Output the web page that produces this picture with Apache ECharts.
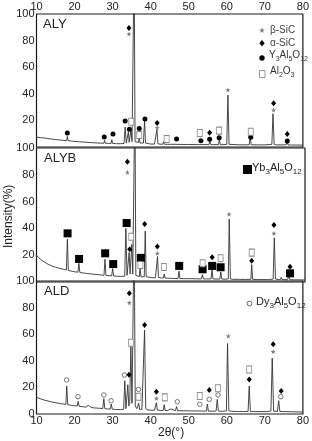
<!DOCTYPE html>
<html><head><meta charset="utf-8">
<script src="https://cdn.jsdelivr.net/npm/echarts@6/dist/echarts.min.js"></script>
<style>html,body{margin:0;padding:0;background:#fff}#c{width:312px;height:441px}</style>
</head><body><div id="c"></div>
<script>
// ---------- DATA ----------
const xTickValues = [10, 20, 30, 40, 50, 60, 70, 80];
const yTickValues = [0, 20, 40, 60, 80, 100];
const panelNames = ['ALY', 'ALYB', 'ALD'];

// XRD profiles [2theta, intensity %]
const alyPattern = [[10,7.5],[11,7],[12,6.8],[13,6.3],[14,6],[15,5.6],[16,5.3],[17,5],[17.9,4.8],[18.1,8],[18.3,4.7],[19,4.5],[20,4.2],[21,4],[22,3.8],[23,3.6],[24,3.4],[25,3.2],[26,3],[27,2.9],[27.7,2.8],[27.9,5],[28.1,2.8],[29,2.7],[29.6,2.7],[29.8,5.5],[30,2.7],[31,2.5],[32,2.5],[33,2.6],[33.3,15],[33.6,3],[33.9,3.2],[34.15,11.5],[34.35,3.5],[34.55,4],[34.85,13],[35.1,4],[35.4,5],[35.65,140],[35.9,4],[36.3,3],[36.8,3.5],[37,7],[37.2,3],[37.6,2.6],[38.1,3],[38.4,20],[38.65,3],[39,2.3],[40,2.2],[41,2.2],[41.4,2.5],[41.65,13],[41.9,2.5],[42.5,2.1],[43.2,2.1],[43.4,4],[43.6,2.1],[44.5,2],[45.3,2],[45.5,3],[45.7,2],[46.5,2],[46.75,3.5],[47,2],[48,1.9],[49.7,1.9],[49.9,2.5],[50.1,1.9],[52,1.8],[52.9,1.8],[53.1,3.2],[53.3,1.8],[54,1.8],[55.3,1.8],[55.55,4.5],[55.8,1.8],[56.5,1.8],[57.8,1.8],[58.05,5.5],[58.3,1.8],[59,1.7],[60,2],[60.3,39],[60.6,2],[61,1.7],[63,1.7],[64.5,1.6],[65.9,1.7],[66.15,7.5],[66.4,1.7],[68,1.6],[70,1.6],[71.85,2],[72.15,25],[72.45,2],[73,1.6],[73.7,1.6],[73.9,3],[74.1,1.6],[75.6,1.6],[75.85,4.5],[76.1,1.6],[77,1.5],[78,1.5],[80,1.4]];
const alybPattern = [[10,20],[10.5,18.5],[11,17],[11.5,16],[12,15],[13,13.3],[14,12],[15,11],[16,10.2],[17,9.5],[17.8,9],[18.05,32],[18.3,8.6],[19,8.2],[20,7.6],[20.8,7.3],[21.05,14],[21.3,7.1],[22,6.8],[23,6.4],[24,6.1],[25,5.8],[26,5.5],[27,5.2],[27.6,5],[27.85,17],[28.1,4.9],[29,4.7],[29.6,4.6],[29.85,10],[30.1,4.5],[31,4.3],[32,4.2],[33,4.3],[33.3,40],[33.6,5],[33.9,5.5],[34.15,22],[34.4,6],[34.6,7],[34.85,28],[35.1,6],[35.4,7],[35.65,140],[35.9,5],[36.4,4],[36.8,4],[37,10],[37.25,3.8],[37.7,3.6],[38.1,4],[38.35,38],[38.6,4],[39,3.4],[40,3.2],[41,3.2],[41.3,3.5],[41.55,19],[41.8,3.4],[42.5,3],[43.1,3],[43.3,6],[43.5,3],[44.5,2.8],[45.3,2.7],[45.5,4],[45.7,2.7],[46.9,2.6],[47.15,8],[47.4,2.6],[48.5,2.5],[49.6,2.5],[49.8,3.5],[50,2.5],[51.5,2.4],[53,2.3],[53.25,5.5],[53.5,2.3],[54.5,2.3],[55.5,2.3],[55.75,9],[56,2.3],[56.8,2.2],[57.8,2.2],[58.05,7.5],[58.3,2.2],[59.1,2.1],[60,2.3],[60.25,47],[60.55,2.3],[61.2,2],[63,2],[64.5,1.9],[65.9,2],[66.1,13],[66.35,2],[67.5,1.8],[69,1.8],[70.5,1.8],[71.7,2.2],[72,33],[72.3,2.2],[73,1.8],[73.6,1.8],[73.8,3.5],[74,1.8],[75.5,1.7],[75.8,5.5],[76.05,1.7],[77,1.6],[78.5,1.6],[80,1.5]];
const aldPattern = [[10,12.5],[10.5,12],[11,11.5],[12,10.5],[13,9.8],[14,9],[15,8.5],[16,8],[17,7.5],[17.7,7.2],[17.95,21],[18.2,7],[19,6.6],[20,6.2],[20.7,6],[20.95,9.5],[21.2,5.8],[22,5.5],[23,5.2],[23.4,5],[23.6,6.5],[23.8,5],[24.5,4.8],[25.5,4.5],[26.5,4.3],[27.4,4.1],[27.7,11.5],[27.95,4],[28.7,3.8],[29.4,3.7],[29.65,7.5],[29.9,3.6],[31,3.4],[32,3.3],[32.9,3.6],[33.2,25],[33.5,4],[33.75,5],[34.0,22],[34.25,6],[34.5,8],[34.8,51],[35.1,8],[35.35,9],[35.65,140],[35.95,6],[36.4,4],[36.65,4],[36.85,8],[37.1,3.5],[37.7,3.5],[38.1,5],[38.4,63],[38.7,4],[39.3,3],[40,2.8],[41,2.8],[41.3,3],[41.5,8.5],[41.75,3],[42.5,2.7],[43.3,2.7],[43.55,7],[43.8,2.7],[44.5,2.6],[45,2.6],[45.2,3.8],[45.4,2.6],[46.5,2.5],[46.8,5.5],[47.05,2.5],[48.5,2.4],[49.5,2.4],[49.7,3.5],[49.9,2.4],[50.5,2.3],[50.7,3],[50.9,2.3],[52.4,2.3],[52.65,3.8],[52.9,2.3],[54,2.2],[54.65,2.2],[54.9,7.5],[55.15,2.2],[56.3,2.1],[57.2,2.2],[57.5,11],[57.8,2.2],[58.9,2],[59.9,2.4],[60.2,53],[60.55,2.4],[61.3,2],[63,1.9],[64.5,1.9],[65.6,2],[65.9,21],[66.2,2],[67.5,1.8],[69,1.8],[70.5,1.8],[71.6,2.2],[71.95,42],[72.3,2.2],[73.3,1.9],[73.65,10],[73.95,1.9],[75,1.8],[75.3,3],[75.6,1.8],[77,1.7],[78.5,1.6],[80,1.5]];

// phase marker positions [2theta, height %]
const alyBetaSiC  = [[34.3,85],[41.7,14.5],[60.3,42.9],[72.3,27.8]];
const alyAlphaSiC = [[34.3,89.5],[41.7,18],[55.5,10.7],[72.3,32.9],[75.9,9.8]];
const alyYAG      = [[18.1,10.5],[27.8,7.5],[30.1,9.8],[33.3,19.5],[34.4,13.3],[37.0,14],[38.5,21],[46.8,6],[53.2,4.7],[55.5,5.8],[58.0,7],[66.3,7.3],[75.9,4.5]];
const alyAl2O3    = [[34.9,19],[37.0,9],[44.2,6],[52.9,10.5],[58.0,12.3],[66.3,11.5]];

const alybBetaSiC  = [[33.7,81.9],[41.5,21.4],[60.2,50.7],[71.9,36.3]];
const alybAlphaSiC = [[33.7,89.8],[34.3,24.4],[38.2,43.3],[41.5,26.4],[55.8,18.4],[66.1,15.9],[71.9,42.5],[76.1,11.4]];
const alybYbAG     = [[18.1,36.3],[21.1,17.2],[27.9,21.4],[30.0,13.4],[33.5,44],[37.2,18],[47.2,12],[53.3,9.5],[55.8,12],[58.0,11],[76.1,6.5]];
const alybAl2O3    = [[34.7,33.8],[37.1,12.7],[43.2,11.2],[53.3,14],[58.0,17.7],[66.1,21.9]];

const aldBetaSiC  = [[34.4,83.7],[41.5,11.8],[60.4,58.6],[72.2,46.9]];
const aldAlphaSiC = [[34.4,90.7],[34.3,29.6],[38.4,67],[41.5,16.8],[55.4,18],[65.9,26],[72.2,52.4],[74.3,17.3]];
const aldDyAG     = [[17.9,25.6],[20.9,13],[27.7,14.3],[29.6,10],[33.1,29.3],[36.8,18.5],[47.0,9.2],[52.9,7.3],[55.4,11],[57.7,14.3],[74.2,13]];
const aldAl2O3    = [[34.8,53.6],[36.8,13],[43.7,12.5],[52.9,13.5],[57.7,19.3],[65.9,33.4]];

// ---------- CHART ----------
const FONT = 'Liberation Sans, Arial, sans-serif';
const gridTops = [14, 148, 281];
const gridHeights = [133, 134, 133];
const STAR = 'path://M0,-5 L1.2,-1.6 L4.8,-1.5 L1.9,0.6 L2.9,4 L0,2 L-2.9,4 L-1.9,0.6 L-4.8,-1.5 L-1.2,-1.6 Z';
const starPts = [[0,-5],[1.2,-1.6],[4.8,-1.5],[1.9,0.6],[2.9,4],[0,2],[-2.9,4],[-1.9,0.6],[-4.8,-1.5],[-1.2,-1.6]];

const grids = gridTops.map((t, i) => ({
  left: 36.5, width: 268.5, top: t, height: gridHeights[i],
  show: true, borderColor: '#1a1a1a', borderWidth: 1.2, backgroundColor: 'transparent'
}));
const xAxes = gridTops.map((t, i) => ({
  type: 'value', gridIndex: i, min: 10, max: 80, interval: 10,
  position: i === 0 ? 'top' : 'bottom',
  axisLine: { show: false }, axisTick: { show: false }, splitLine: { show: false },
  axisLabel: { show: i !== 1, fontFamily: FONT, fontSize: 11, color: '#222', margin: i === 0 ? 2 : 1,
    formatter: v => xTickValues.includes(v) ? String(v) : '' }
}));
const yAxes = gridTops.map((t, i) => ({
  type: 'value', gridIndex: i, min: 0, max: 100, interval: 20,
  axisLine: { show: false }, axisTick: { show: false }, splitLine: { show: false },
  axisLabel: { fontFamily: FONT, fontSize: 11, color: '#222', margin: 2,
    formatter: v => (v === 0 && i < 2) ? '' : (yTickValues.includes(v) ? String(v) : '') }
}));

function lineSeries(data, i) {
  return { type: 'line', xAxisIndex: i, yAxisIndex: i, data: data, showSymbol: false, clip: true,
    lineStyle: { color: '#333', width: 0.9 }, silent: true, animation: false, z: 2 };
}
function markSeries(data, i, kind) {
  const base = { type: 'scatter', xAxisIndex: i, yAxisIndex: i, data: data, silent: true, animation: false, z: 5 };
  if (kind === 'beta') return Object.assign(base, { symbol: STAR, symbolSize: 5, itemStyle: { color: '#7a7a7a', opacity: 1 } });
  if (kind === 'alpha') return Object.assign(base, { symbol: 'diamond', symbolSize: [5, 6], itemStyle: { color: '#000', opacity: 1 } });
  if (kind === 'yag') return Object.assign(base, { symbol: 'circle', symbolSize: 5, itemStyle: { color: '#000', opacity: 1 } });
  if (kind === 'al2o3') return Object.assign(base, { symbol: 'rect', symbolSize: [5, 7], itemStyle: { color: '#fff', borderColor: '#8a8a8a', borderWidth: 0.9, opacity: 1 } });
  if (kind === 'ybag') return Object.assign(base, { symbol: 'rect', symbolSize: 8, itemStyle: { color: '#000', opacity: 1 } });
  if (kind === 'dyag') return Object.assign(base, { symbol: 'circle', symbolSize: 4.5, itemStyle: { color: '#fff', borderColor: '#666', borderWidth: 0.9, opacity: 1 } });
}

const series = [
  lineSeries(alyPattern, 0), lineSeries(alybPattern, 1), lineSeries(aldPattern, 2),
  markSeries(alyBetaSiC, 0, 'beta'), markSeries(alyAlphaSiC, 0, 'alpha'), markSeries(alyYAG, 0, 'yag'), markSeries(alyAl2O3, 0, 'al2o3'),
  markSeries(alybBetaSiC, 1, 'beta'), markSeries(alybAlphaSiC, 1, 'alpha'), markSeries(alybYbAG, 1, 'ybag'), markSeries(alybAl2O3, 1, 'al2o3'),
  markSeries(aldBetaSiC, 2, 'beta'), markSeries(aldAlphaSiC, 2, 'alpha'), markSeries(aldDyAG, 2, 'dyag'), markSeries(aldAl2O3, 2, 'al2o3')
];

const subRich = {
  n: { fontSize: 10, fontFamily: FONT, fill: '#333', lineHeight: 12, verticalAlign: 'top' },
  s: { fontSize: 7, fontFamily: FONT, fill: '#333', lineHeight: 8, verticalAlign: 'top', padding: [6, 0, 0, 0] },
  N: { fontSize: 11, fontFamily: FONT, fill: '#222', lineHeight: 13, verticalAlign: 'top' },
  S: { fontSize: 8, fontFamily: FONT, fill: '#222', lineHeight: 9, verticalAlign: 'top', padding: [6, 0, 0, 0] }
};
function txt(x, y, text, size, extra) {
  return { type: 'text', x: x, y: y, style: Object.assign({ text: text, fontFamily: FONT, fontSize: size, fill: '#222' }, extra || {}) };
}
const graphic = [
  txt(43, 18, panelNames[0], 13),
  txt(44, 152, panelNames[1], 13),
  txt(44, 285, panelNames[2], 13),
  // legend panel 1
  { type: 'polygon', shape: { points: starPts.map(p => [262 + p[0] * 0.6, 30.5 + p[1] * 0.6]) }, style: { fill: '#7a7a7a' } },
  txt(270, 25, 'β-SiC', 10, { fill: '#444' }),
  { type: 'polygon', shape: { points: [[262, 40], [264.6, 43.2], [262, 46.4], [259.4, 43.2]] }, style: { fill: '#000' } },
  txt(270, 38, 'α-SiC', 10, { fill: '#444' }),
  { type: 'circle', shape: { cx: 262, cy: 58, r: 2.7 }, style: { fill: '#000' } },
  { type: 'text', x: 269, y: 50, style: { text: '{n|Y}{s|3}{n|Al}{s|5}{n|O}{s|12}', rich: subRich } },
  { type: 'rect', shape: { x: 259.5, y: 70.5, width: 5.5, height: 7 }, style: { fill: '#fff', stroke: '#8a8a8a', lineWidth: 0.9 } },
  { type: 'text', x: 270, y: 66, style: { text: '{n|Al}{s|2}{n|O}{s|3}', rich: subRich } },
  // legend panel 2
  { type: 'rect', shape: { x: 243, y: 165, width: 9, height: 9 }, style: { fill: '#000' } },
  { type: 'text', x: 252, y: 162, style: { text: '{N|Yb}{S|3}{N|Al}{S|5}{N|O}{S|12}', rich: subRich } },
  // legend panel 3
  { type: 'circle', shape: { cx: 249.5, cy: 303.5, r: 2.4 }, style: { fill: 'none', stroke: '#555', lineWidth: 0.9 } },
  { type: 'text', x: 256, y: 296, style: { text: '{N|Dy}{S|3}{N|Al}{S|5}{N|O}{S|12}', rich: subRich } },
  // axis titles
  { type: 'text', x: 3, y: 248, rotation: Math.PI / 2, style: { text: 'Intensity(%)', fontFamily: FONT, fontSize: 12, fill: '#222' } },
  txt(158, 427, '2θ(°)', 12)
];

const chart = echarts.init(document.getElementById('c'), null, { renderer: 'canvas' });
chart.setOption({
  animation: false, backgroundColor: '#fff',
  grid: grids, xAxis: xAxes, yAxis: yAxes, series: series, graphic: graphic
});
</script></body></html>
